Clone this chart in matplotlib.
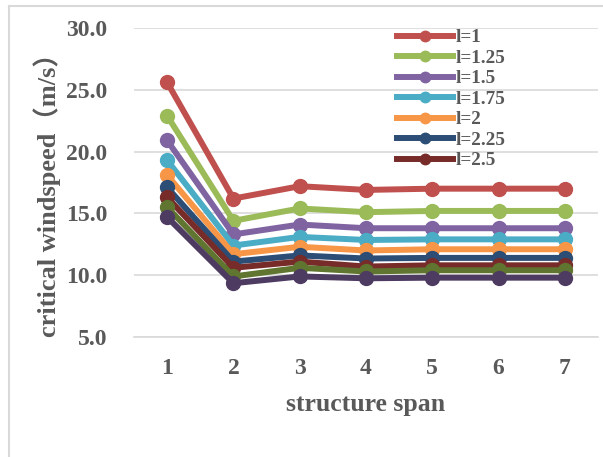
import matplotlib
matplotlib.use("Agg")
from matplotlib import pyplot as plt
from matplotlib.lines import Line2D

# structure span categories
spans = [1, 2, 3, 4, 5, 6, 7]
span_labels = ["1", "2", "3", "4", "5", "6", "7"]

# critical windspeed (m/s) per l value
l_1 = [25.6, 16.2, 17.2, 16.9, 17.0, 17.0, 17.0]
l_125 = [22.9, 14.4, 15.4, 15.1, 15.2, 15.2, 15.2]
l_15 = [20.9, 13.3, 14.1, 13.8, 13.8, 13.8, 13.8]
l_175 = [19.3, 12.4, 13.1, 12.85, 12.9, 12.9, 12.9]
l_2 = [18.1, 11.7, 12.3, 12.0, 12.1, 12.1, 12.1]
l_225 = [17.1, 11.1, 11.6, 11.35, 11.4, 11.4, 11.4]
l_25 = [16.3, 10.6, 11.1, 10.7, 10.8, 10.8, 10.8]
l_275 = [15.5, 9.9, 10.6, 10.3, 10.4, 10.4, 10.4]
l_3 = [14.7, 9.35, 9.9, 9.75, 9.8, 9.8, 9.8]

series = [l_1, l_125, l_15, l_175, l_2, l_225, l_25, l_275, l_3]
names = ["l=1", "l=1.25", "l=1.5", "l=1.75", "l=2", "l=2.25", "l=2.5", "l=2.75", "l=3"]
colors = ["#C0504D", "#9BBB59", "#8064A2", "#4BACC6", "#F79646",
          "#2C4D75", "#772C2A", "#5F7530", "#4D3B62"]
n_legend = 7  # only 7 entries visible in the legend

txt = "#595959"
grid_c = "#D9D9D9"
serif = ["Liberation Serif", "Noto Sans CJK SC", "DejaVu Sans"]

W, H = 603, 457
fig = plt.figure(figsize=(W / 100, H / 100), dpi=100)
ax = fig.add_axes([134 / W, 1 - 337 / H, (598 - 134) / W, (337 - 28) / H])

for vals, c in zip(series, colors):
    ax.plot(spans, vals, color=c, lw=4.3, marker="o", ms=10,
            solid_capstyle="round", clip_on=False)

ax.set_xlim(0.5, 7.5)
ax.set_ylim(5, 30)
ax.set_yticks([5, 10, 15, 20, 25, 30])
ax.set_yticklabels(["%.1f" % v for v in [5, 10, 15, 20, 25, 30]])
ax.set_xticks(spans)
ax.set_xticklabels(span_labels)
ax.tick_params(length=0, colors=txt)
ax.tick_params(axis="y", pad=19)
ax.tick_params(axis="x", pad=15)
for lab in ax.get_xticklabels() + ax.get_yticklabels():
    lab.set_fontfamily(serif)
    lab.set_fontweight("bold")
    lab.set_fontsize(17)
    lab.set_color(txt)

ax.grid(axis="y", color=grid_c, lw=1.2)
ax.set_axisbelow(True)
for s in ["top", "right", "left"]:
    ax.spines[s].set_visible(False)
ax.spines["bottom"].set_color(grid_c)
ax.spines["bottom"].set_linewidth(1.2)

fig.text(47 / W, 1 - 189 / H, "critical windspeed（m/s）", rotation=90,
         ha="center", va="center", family=serif, fontweight="bold",
         fontsize=19, color=txt)
fig.text(366 / W, 1 - 405 / H, "structure span", ha="center", va="center",
         family=serif, fontweight="bold", fontsize=18.5, color=txt)

handles = [Line2D([], [], color=c, lw=4.3, marker="o", ms=7.5)
           for c in colors[:n_legend]]
leg = fig.legend(handles, names[:n_legend], loc="upper left",
                 bbox_to_anchor=(397 / W, 1 - 29 / H), frameon=False,
                 borderpad=0, borderaxespad=0, handlelength=2.9,
                 handletextpad=0.15, labelspacing=0.16,
                 prop={"family": serif, "weight": "bold", "size": 13.8})
for t in leg.get_texts():
    t.set_color(txt)

# light border around the chart area
fig.add_artist(Line2D([9 / W, 9 / W], [0, 1 - 6 / H], color=grid_c, lw=1.5))
fig.add_artist(Line2D([9 / W, 1], [1 - 6 / H, 1 - 6 / H], color=grid_c, lw=1.5))

fig.savefig("out.png", dpi=100)
